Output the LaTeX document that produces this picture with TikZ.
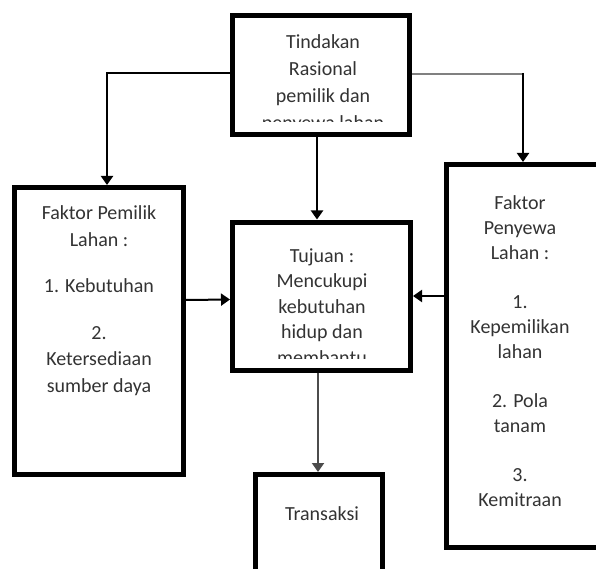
\documentclass[tikz,border=0pt]{standalone}
\usepackage{fontspec}
\setmainfont{Carlito}
\usetikzlibrary{arrows.meta}
\begin{document}
\begin{tikzpicture}[x=1pt,y=-1pt,
  box/.style={draw=black, line width=5pt, fill=white, inner sep=0pt},
  txt/.style={text=black!80, font=\fontsize{20}{27}\selectfont, align=center, inner sep=0pt, anchor=north},
  conn/.style={line width=2pt, draw=black, -{Triangle[width=12pt,length=9pt]}},
]
\useasboundingbox (0,0) rectangle (596,569);
\clip (0,0) rectangle (596,569);
% boxes
\node[box, minimum width=177pt, minimum height=119pt] (top) at (321,75) {};
\node[box, minimum width=169pt, minimum height=287pt] (left) at (99,331) {};
\node[box, minimum width=178pt, minimum height=148pt] (mid) at (321.5,296) {};
\node[box, minimum width=157pt, minimum height=383pt] (right) at (525,356) {};
\node[box, minimum width=127pt, minimum height=145pt] (trans) at (319,547) {};
% texts
\begin{scope}
  \clip (235,18) rectangle (407,122);
  \node[txt] (topT) at (323,34.5) {Tindakan\\Rasional\\pemilik dan\\penyewa lahan};
\end{scope}
\node[txt, font=\fontsize{20}{26.5}\selectfont] (leftT) at (99,205.5)
  {Faktor Pemilik\\Lahan :\\[20pt]1. Kebutuhan\\[20pt]2.\\Ketersediaan\\sumber daya};
\node[txt, font=\fontsize{20}{25}\selectfont] (rightT) at (520,195.5)
  {Faktor\\Penyewa\\Lahan :\\[24pt]1.\\Kepemilikan\\lahan\\[24pt]2. Pola\\tanam\\[24pt]3.\\Kemitraan};
\begin{scope}
  \clip (235,225) rectangle (408,358);
  \node[txt, font=\fontsize{20}{25.5}\selectfont] (midT) at (322,248.5)
    {Tujuan :\\Mencukupi\\kebutuhan\\hidup dan\\membantu};
\end{scope}
\node[txt] (transT) at (322,506.5) {Transaksi};
% connectors
\draw[conn] ([yshift=2pt]top.west) -| ([xshift=8pt]left.north);
\coordinate (rc) at ([xshift=-2pt]right.north |- top.east);
\draw[line width=2pt, draw=black!50] ([yshift=1pt]top.east) -- ([yshift=1pt]rc);
\draw[conn] ([yshift=2pt]rc) -- ([xshift=-2pt]right.north);
\draw[conn] ([xshift=-4pt]top.south) -- ([xshift=-4.5pt]mid.north);
\draw[conn] ([yshift=31pt]left.east) -- ([yshift=-3.5pt]mid.west);
\draw[conn] ([yshift=60pt]right.west) -- ([yshift=0pt]mid.east);
\draw[conn, draw=black!70] ([xshift=-3.5pt]mid.south) -- ([xshift=-1pt]trans.north);
\end{tikzpicture}
\end{document}
